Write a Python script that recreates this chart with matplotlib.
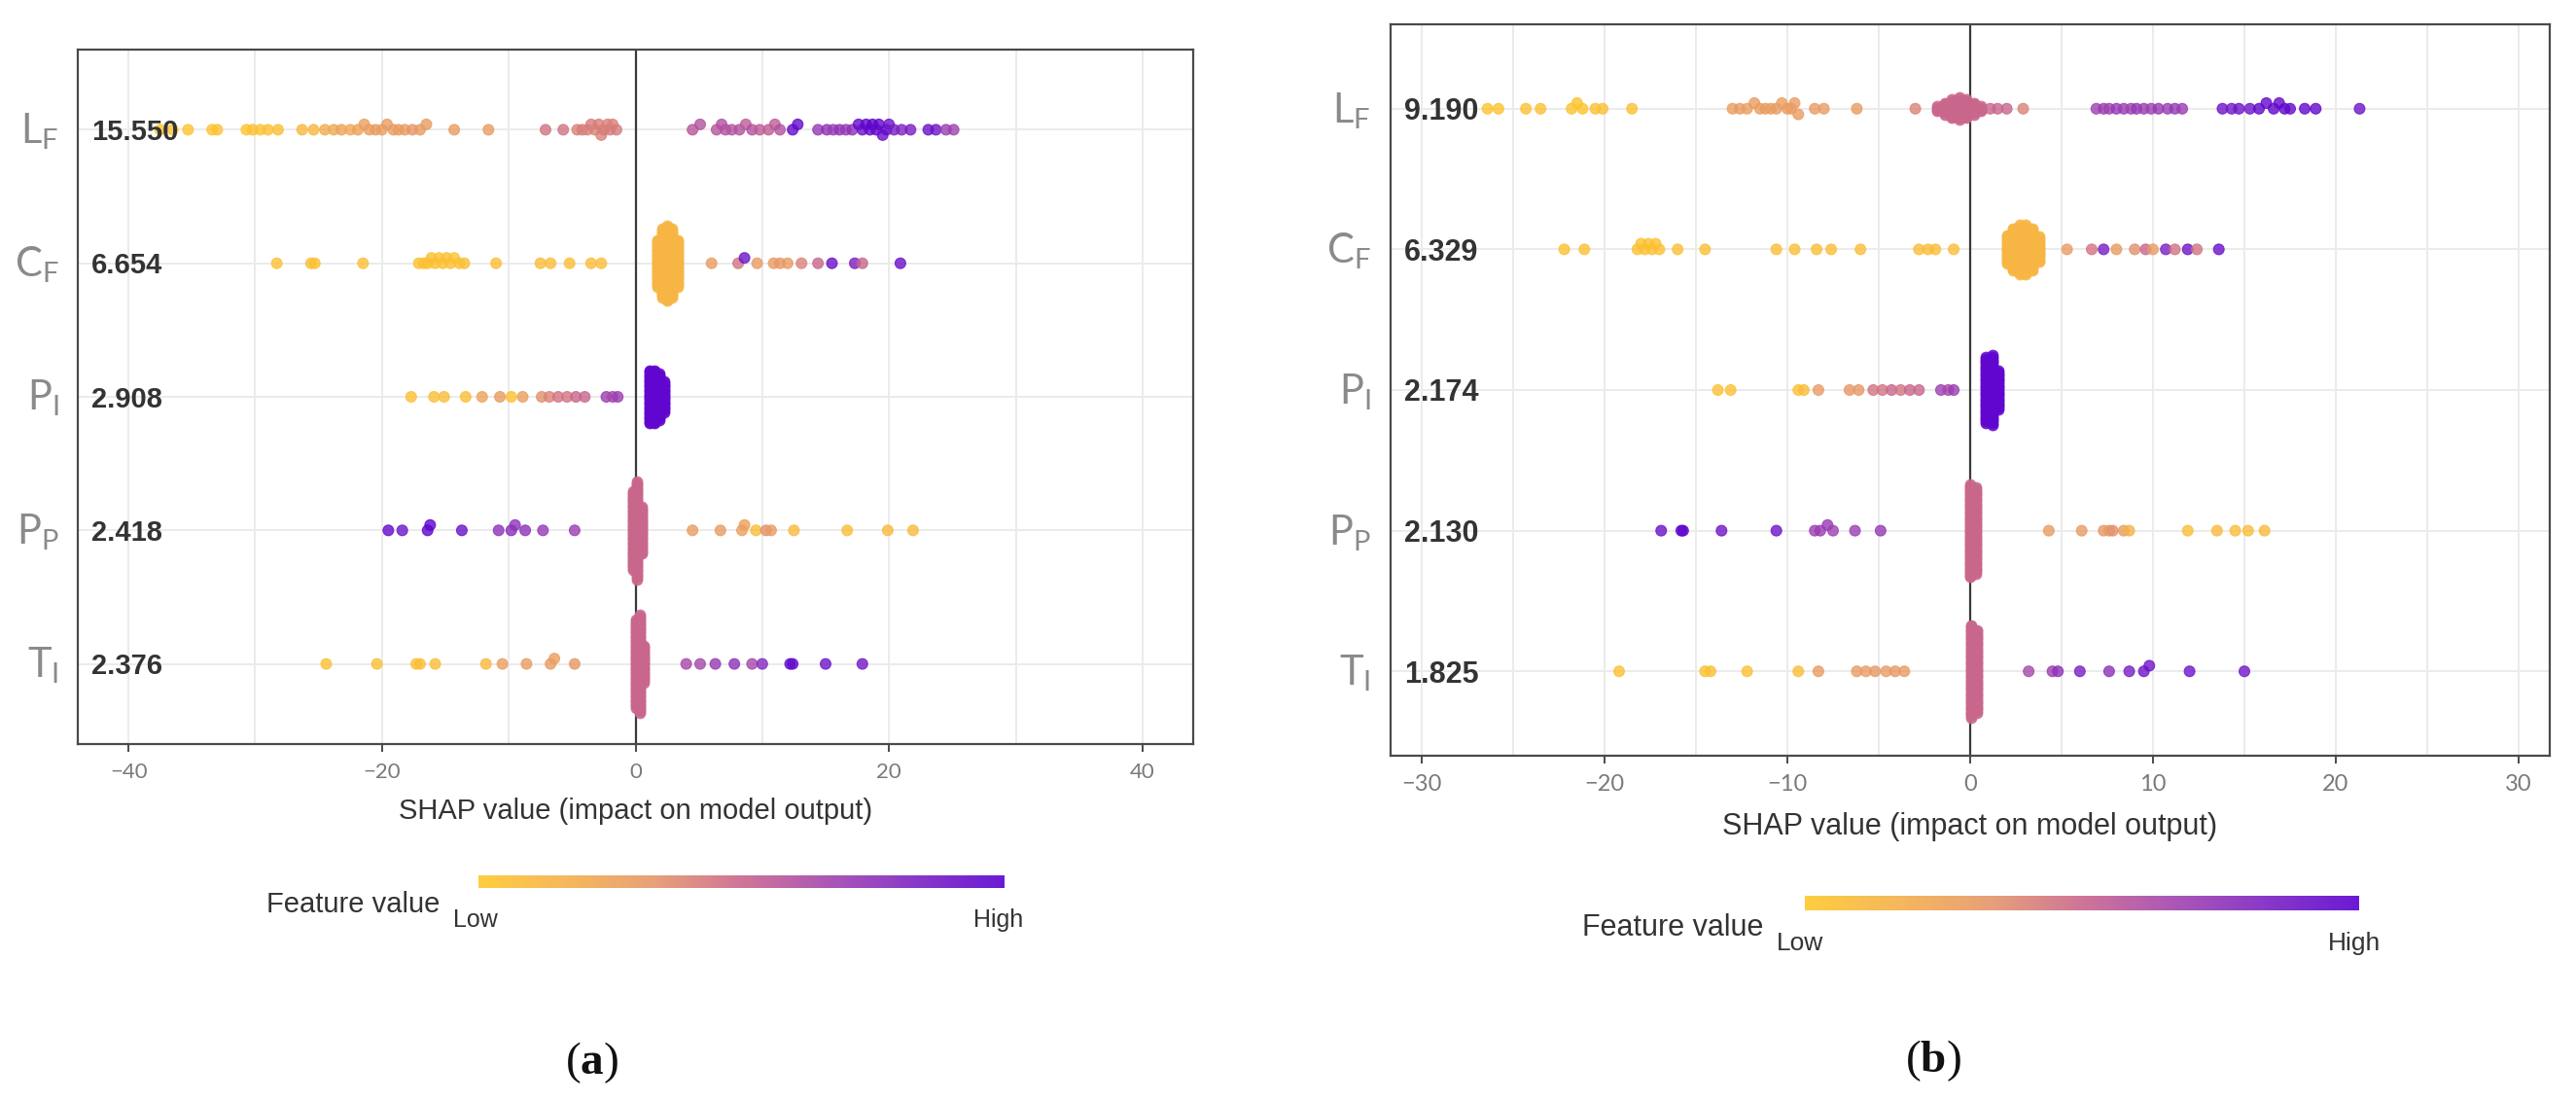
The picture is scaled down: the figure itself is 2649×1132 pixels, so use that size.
import numpy as np
import matplotlib
matplotlib.use("Agg")
import matplotlib.pyplot as plt
import matplotlib.transforms as mtrans
from matplotlib.colors import LinearSegmentedColormap
from matplotlib.ticker import MultipleLocator

plt.rcParams["font.family"] = ["Liberation Sans", "DejaVu Sans"]
plt.rcParams["mathtext.fontset"] = "custom"
plt.rcParams["mathtext.bf"] = "Liberation Serif:bold"
plt.rcParams["mathtext.rm"] = "Liberation Serif"

# ---------------- data ----------------
features = [r"$\mathregular{L_F}$", r"$\mathregular{C_F}$", r"$\mathregular{P_I}$",
            r"$\mathregular{P_P}$", r"$\mathregular{T_I}$"]
a_means = ["15.550", "6.654", "2.908", "2.418", "2.376"]
b_means = ["9.190", "6.329", "2.174", "2.130", "1.825"]
a_ticks = [-40, -20, 0, 20, 40]
b_ticks = [-30, -20, -10, 0, 10, 20, 30]

# panel (a) scattered points: SHAP value / feature value (0 = low, 1 = high)
a_lf_shap = [-37.5, -36.5, -35.3, -33.4, -33.0, -30.7, -30.2, -29.6, -29.0, -28.2,
             -26.3, -25.4, -24.5, -23.8, -23.2, -22.5, -21.9, -21.4,
             -21.0, -20.5, -20.0, -19.6, -19.1, -18.7, -18.2, -17.6, -17.0, -16.5,
             -14.3, -11.6, -7.1, -5.7,
             -4.6, -4.2, -3.8, -3.5, -3.2, -2.9, -2.7, -2.5, -2.2, -2.0, -1.8, -1.5,
             4.5, 5.1, 6.4, 6.8, 7.1, 7.6, 8.2, 8.7, 9.2, 9.8, 10.5, 11.0, 11.4,
             12.4, 12.8, 14.4, 15.1, 15.6, 16.1, 16.6, 17.1,
             17.6, 17.9, 18.2, 18.5, 18.7, 19.0, 19.2, 19.5, 19.8, 20.0,
             20.4, 21.0, 21.7, 23.1, 23.7, 24.5, 25.1]
a_lf_val = [0.02, 0.03, 0.03, 0.04, 0.04, 0.03, 0.05, 0.04, 0.05, 0.06,
            0.1, 0.12, 0.2, 0.22, 0.25, 0.22, 0.25, 0.27,
            0.28, 0.3, 0.28, 0.3, 0.3, 0.28, 0.3, 0.32, 0.3, 0.3,
            0.3, 0.3, 0.45, 0.45,
            0.4, 0.42, 0.4, 0.42, 0.4, 0.42, 0.4, 0.42, 0.4, 0.42, 0.4, 0.42,
            0.58, 0.6, 0.58, 0.6, 0.6, 0.58, 0.6, 0.55, 0.6, 0.55, 0.55, 0.55, 0.6,
            0.95, 0.95, 0.72, 0.75, 0.7, 0.75, 0.72, 0.75,
            0.95, 0.92, 0.97, 0.95, 0.98, 0.95, 0.97, 0.92, 0.95, 0.9,
            0.85, 0.82, 0.85, 0.92, 0.9, 0.7, 0.68]

a_cf_shap = [-28.3, -25.6, -25.3, -21.5,
             -17.1, -16.7, -16.4, -16.1, -15.8, -15.5, -15.2, -14.9, -14.6, -14.3, -13.9, -13.5,
             -11.0, -7.5, -6.7, -5.2, -3.5, -2.7,
             6.0, 8.1, 8.6, 9.6, 10.9, 11.4, 12.0, 13.1, 14.4, 15.5, 17.3, 17.9, 20.9]
a_cf_val = [0.05, 0.06, 0.05, 0.06,
            0.05, 0.04, 0.05, 0.06, 0.05, 0.04, 0.05, 0.06, 0.05, 0.04, 0.05, 0.06,
            0.07, 0.08, 0.08, 0.07, 0.08, 0.08,
            0.3, 0.45, 0.9, 0.3, 0.3, 0.32, 0.3, 0.4, 0.5, 0.92, 0.85, 0.5, 0.92]

a_pi_shap = [-17.7, -15.9, -15.1, -13.4, -12.1, -10.7, -9.8, -8.9,
             -7.4, -6.8, -6.1, -5.4, -4.7, -4.0, -2.3, -1.8, -1.4]
a_pi_val = [0.05, 0.06, 0.08, 0.06, 0.25, 0.3, 0.05, 0.28,
            0.35, 0.4, 0.45, 0.45, 0.5, 0.5, 0.7, 0.65, 0.7]

a_pp_shap = [-19.5, -18.4, -16.4, -16.2, -13.7, -10.8, -9.8, -9.5, -8.7, -7.3, -4.8,
             4.5, 6.7, 8.4, 8.6, 9.5, 10.3, 10.7, 12.5, 16.7, 19.9, 21.9]
a_pp_val = [0.95, 0.9, 0.98, 0.98, 0.92, 0.75, 0.78, 0.75, 0.75, 0.72, 0.7,
            0.3, 0.3, 0.27, 0.27, 0.08, 0.35, 0.3, 0.1, 0.08, 0.1, 0.1]

a_ti_shap = [-24.4, -20.4, -17.3, -17.0, -15.8, -11.8, -10.5, -8.6, -6.7, -6.4, -4.8,
             4.0, 5.1, 6.3, 7.8, 9.2, 10.0, 12.2, 12.4, 15.0, 17.9]
a_ti_val = [0.05, 0.06, 0.05, 0.07, 0.08, 0.1, 0.28, 0.3, 0.3, 0.28, 0.32,
            0.65, 0.65, 0.72, 0.75, 0.65, 0.8, 0.95, 0.95, 0.9, 0.88]

# panel (a) dense stacks near zero: SHAP value, number of samples, feature value
a_cf_pile_x = [1.7, 2.1, 2.5, 2.9, 3.3]
a_cf_pile_n = [30, 44, 48, 44, 30]
a_cf_pile_v = 0.13
a_pi_pile_x = [1.1, 1.5, 1.9, 2.3]
a_pi_pile_n = [34, 34, 30, 20]
a_pi_pile_v = 0.97
a_pp_pile_x = [-0.2, 0.15, 0.5]
a_pp_pile_n = [50, 62, 30]
a_pp_pile_v = 0.5
a_ti_pile_x = [0.0, 0.35, 0.65]
a_ti_pile_n = [56, 62, 24]
a_ti_pile_v = 0.5

# panel (b) scattered points
b_lf_shap = [-26.4, -25.8, -24.3, -23.5, -21.8, -21.5, -21.2, -20.5, -20.1, -18.5,
             -13.0, -12.6, -12.2, -11.8, -11.5, -11.2, -10.9, -10.6, -10.3, -10.0, -9.8, -9.6, -9.4,
             -8.5, -8.0, -6.2, -3.0, 1.1, 1.5, 2.0, 2.9,
             6.9, 7.3, 7.6, 8.0, 8.4, 8.8, 9.1, 9.5, 9.9, 10.3, 10.8, 11.2, 11.6,
             13.8, 14.3, 14.7, 15.3, 15.8, 16.2, 16.6, 16.9, 17.2, 17.5, 18.3, 18.9, 21.3]
b_lf_val = [0.03, 0.03, 0.05, 0.05, 0.03, 0.03, 0.03, 0.05, 0.05, 0.05,
            0.28, 0.3, 0.28, 0.3, 0.28, 0.3, 0.28, 0.3, 0.28, 0.3, 0.28, 0.3, 0.3,
            0.3, 0.3, 0.3, 0.4, 0.5, 0.5, 0.5, 0.4,
            0.68, 0.7, 0.68, 0.72, 0.7, 0.68, 0.72, 0.7, 0.68, 0.72, 0.7, 0.72, 0.7,
            0.9, 0.88, 0.9, 0.9, 0.97, 0.95, 0.97, 0.95, 0.97, 0.95, 0.95, 0.95, 0.9]

b_cf_shap = [-22.2, -21.1, -18.2, -18.0, -17.8, -17.6, -17.4, -17.2, -17.0,
             -16.0, -14.5, -10.6, -9.6, -8.4, -7.6, -6.0, -2.8, -2.3, -1.9, -0.9,
             5.3, 6.65, 7.3, 8.0, 9.0, 9.6, 10.0, 10.7, 11.2, 11.9, 12.4, 13.6]
b_cf_val = [0.05, 0.05, 0.05, 0.04, 0.05, 0.06, 0.05, 0.04, 0.05,
            0.06, 0.06, 0.07, 0.07, 0.07, 0.07, 0.07, 0.08, 0.08, 0.08, 0.08,
            0.3, 0.45, 0.85, 0.3, 0.35, 0.5, 0.3, 0.85, 0.45, 0.9, 0.45, 0.92]

b_pi_shap = [-13.8, -13.1, -9.4, -9.1, -8.3, -6.6, -6.1, -5.3, -4.8, -4.3, -3.8, -3.3,
             -2.8, -1.6, -1.2, -0.9]
b_pi_val = [0.05, 0.05, 0.05, 0.08, 0.3, 0.32, 0.32, 0.45, 0.45, 0.5, 0.45, 0.5,
            0.5, 0.68, 0.65, 0.7]

b_pp_shap = [-16.9, -15.8, -15.7, -13.6, -10.6, -8.5, -8.2, -7.8, -7.5, -6.3, -4.9,
             4.3, 6.1, 7.3, 7.6, 7.8, 8.4, 8.7, 11.9, 13.5, 14.5, 15.2, 16.1]
b_pp_val = [0.92, 0.98, 0.98, 0.9, 0.9, 0.7, 0.7, 0.72, 0.68, 0.7, 0.72,
            0.3, 0.3, 0.32, 0.3, 0.35, 0.3, 0.15, 0.08, 0.1, 0.08, 0.08, 0.1]

b_ti_shap = [-19.2, -14.5, -14.2, -12.2, -9.4, -8.3, -6.2, -5.7, -5.2, -4.6, -4.1, -3.6,
             3.2, 4.5, 4.8, 6.0, 7.6, 8.7, 9.5, 9.8, 12.0, 15.0]
b_ti_val = [0.05, 0.05, 0.06, 0.05, 0.08, 0.3, 0.3, 0.3, 0.32, 0.3, 0.32, 0.3,
            0.65, 0.7, 0.75, 0.85, 0.75, 0.85, 0.9, 0.9, 0.9, 0.88]

# panel (b) dense stacks
b_lf_pile_x = [-1.8, -1.4, -1.0, -0.6, -0.2, 0.2, 0.6]
b_lf_pile_n = [4, 8, 12, 14, 12, 8, 4]
b_lf_pile_v = 0.5
b_cf_pile_x = [2.0, 2.35, 2.7, 3.05, 3.4, 3.75]
b_cf_pile_n = [18, 26, 30, 30, 26, 16]
b_cf_pile_v = 0.13
b_pi_pile_x = [0.85, 1.2, 1.55]
b_pi_pile_n = [40, 42, 24]
b_pi_pile_v = 0.97
b_pp_pile_x = [0.0, 0.3]
b_pp_pile_n = [56, 52]
b_pp_pile_v = 0.5
b_ti_pile_x = [0.05, 0.35]
b_ti_pile_n = [56, 50]
b_ti_pile_v = 0.5

# ---------------- style ----------------
cmap = LinearSegmentedColormap.from_list(
    "feature_value",
    ["#FFC82A", "#F5B04A", "#E5966A", "#C9668C", "#A244AE", "#7C22C2", "#5A00D0"])

GRID = "#ebebeb"
SPINE = "#4a4a4a"
GREY_TXT = "#8a8a8a"


def swarm(xs, w, d):
    """simple beeswarm offsets: points in the same x-bin get stacked up/down"""
    xs = np.asarray(xs, float)
    bins = np.round(xs / w)
    ys = np.zeros(len(xs))
    for b in np.unique(bins):
        idx = np.where(bins == b)[0]
        for k, i in enumerate(idx):
            ys[i] = np.ceil(k / 2) * (1 if k % 2 else -1) * d
    return ys


def draw_panel(rect, rows, piles, means, ticks, xlim, minor, bin_w,
               num_size, name_size, tick_size, xlab_size):
    ax = fig.add_axes(rect)
    ypos = [5, 4, 3, 2, 1]
    ax.axvline(0, color="#3a3a3a", lw=1.6, zorder=1.5)

    for y, (px, pn, pv) in zip(ypos[1:] if len(piles) == 4 else ypos, piles):
        for x, n in zip(px, pn):
            off = (np.arange(n) - (n - 1) / 2) * 0.012
            ax.scatter(np.full(n, x), y + off, s=62, color=cmap(pv), alpha=0.85,
                       edgecolor=cmap(pv), linewidth=0.6, zorder=2)

    for y, (xs, vs) in zip(ypos, rows):
        off = swarm(xs, bin_w, 0.04)
        cols = cmap(np.asarray(vs))
        ax.scatter(xs, y + off, s=62, c=cols, alpha=0.8, edgecolors=cols,
                   linewidths=0.8, zorder=3)

    tr = mtrans.blended_transform_factory(ax.transAxes, ax.transData)
    for y, name, m in zip(ypos, features, means):
        ax.text(-0.017, y - 0.1, name, transform=tr, ha="right", va="baseline",
                fontsize=name_size, color=GREY_TXT, family=["Lato", "DejaVu Sans"])
        ax.text(0.012, y - 0.078, m, transform=tr, ha="left", va="baseline",
                fontsize=num_size, fontweight="bold", color="#333333", zorder=5)

    ax.set_xticks(ticks)
    ax.xaxis.set_minor_locator(MultipleLocator(minor))
    ax.set_xlim(-xlim, xlim)
    ax.set_yticks(ypos)
    ax.set_yticklabels([])
    ax.set_ylim(0.4, 5.6)
    ax.tick_params(axis="y", length=0)
    ax.tick_params(axis="x", which="major", length=6, width=1.4, color=SPINE,
                   labelsize=tick_size, labelcolor="#7a7a7a", pad=8)
    ax.tick_params(axis="x", which="minor", length=0)
    for lab in ax.get_xticklabels():
        lab.set_family(["Lato", "DejaVu Sans"])
    ax.grid(True, which="both", axis="x", color=GRID, lw=1.4, zorder=0)
    ax.grid(True, which="major", axis="y", color=GRID, lw=1.4, zorder=0)
    ax.set_axisbelow(True)
    for sp in ax.spines.values():
        sp.set_color(SPINE)
        sp.set_linewidth(1.6)
    ax.text(0.5, -0.097, "SHAP value (impact on model output)", transform=ax.transAxes,
            ha="center", va="center", fontsize=xlab_size, color="#333333")
    return ax


def draw_colorbar(rect, label_xy, low_xy, high_xy, size):
    cax = fig.add_axes(rect)
    cax.imshow(np.linspace(0, 1, 256)[None, :], aspect="auto", cmap=cmap, alpha=0.9)
    cax.set_axis_off()
    fig.text(*label_xy, "Feature value", ha="right", va="center", fontsize=size,
             color="#333333")
    fig.text(*low_xy, "Low", ha="left", va="center", fontsize=size - 3, color="#333333")
    fig.text(*high_xy, "High", ha="right", va="center", fontsize=size - 3, color="#333333")


fig = plt.figure(figsize=(26.49, 11.32), dpi=100)
W, H = 2649.0, 1132.0

a_rows = [(a_lf_shap, a_lf_val), (a_cf_shap, a_cf_val), (a_pi_shap, a_pi_val),
          (a_pp_shap, a_pp_val), (a_ti_shap, a_ti_val)]
a_piles = [(a_cf_pile_x, a_cf_pile_n, a_cf_pile_v), (a_pi_pile_x, a_pi_pile_n, a_pi_pile_v),
           (a_pp_pile_x, a_pp_pile_n, a_pp_pile_v), (a_ti_pile_x, a_ti_pile_n, a_ti_pile_v)]
b_rows = [(b_lf_shap, b_lf_val), (b_cf_shap, b_cf_val), (b_pi_shap, b_pi_val),
          (b_pp_shap, b_pp_val), (b_ti_shap, b_ti_val)]
b_piles = [(b_lf_pile_x, b_lf_pile_n, b_lf_pile_v),
           (b_cf_pile_x, b_cf_pile_n, b_cf_pile_v), (b_pi_pile_x, b_pi_pile_n, b_pi_pile_v),
           (b_pp_pile_x, b_pp_pile_n, b_pp_pile_v), (b_ti_pile_x, b_ti_pile_n, b_ti_pile_v)]

draw_panel([80 / W, 1 - 765 / H, 1147 / W, 714 / H], a_rows, a_piles, a_means,
           a_ticks, 44, 10, 0.6, 21, 30, 16, 21)
draw_panel([1430 / W, 1 - 777 / H, 1192 / W, 752 / H], b_rows, b_piles, b_means,
           b_ticks, 31.7, 5, 0.4, 22, 30, 17, 22)

draw_colorbar([492 / W, 1 - 913 / H, 541 / W, 13 / H], (452 / W, 1 - 930 / H),
              (466 / W, 1 - 946 / H), (1052 / W, 1 - 946 / H), 21)
draw_colorbar([1856 / W, 1 - 936 / H, 570 / W, 15 / H], (1813 / W, 1 - 954 / H),
              (1827 / W, 1 - 970 / H), (2448 / W, 1 - 970 / H), 22)

fig.text(609 / W, 1 - 1093 / H, r"($\mathbf{a}$)", ha="center", va="center",
         fontsize=34, family="Liberation Serif", color="#111111")
fig.text(1988 / W, 1 - 1091 / H, r"($\mathbf{b}$)", ha="center", va="center",
         fontsize=34, family="Liberation Serif", color="#111111")

fig.savefig("out.png", dpi=100)
